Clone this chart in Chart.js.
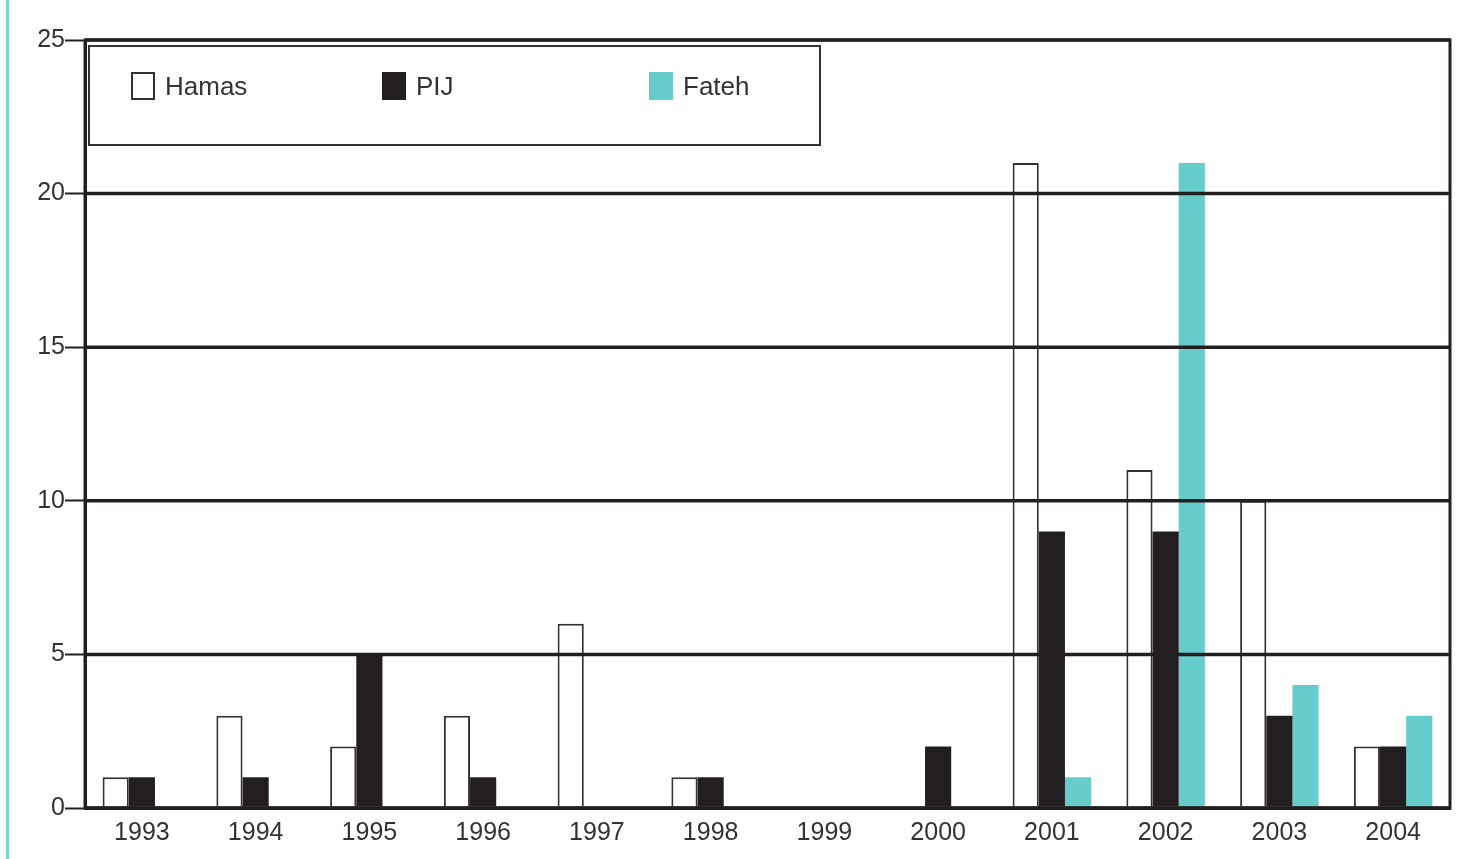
<!DOCTYPE html>
<html>
<head>
<meta charset="utf-8">
<script src="https://cdn.jsdelivr.net/npm/chart.js@4/dist/chart.umd.min.js"></script>
<style>
html,body{margin:0;padding:0;background:#fff;}
#wrap{position:relative;width:1458px;height:859px;}
#edge{position:absolute;left:6px;top:0;width:3px;height:859px;background:#7fd3d3;}
canvas{position:absolute;left:0;top:0;}
</style>
</head>
<body>
<div id="wrap"><div id="edge"></div><canvas id="c" width="1458" height="859"></canvas></div>
<script>
const years = ['1993','1994','1995','1996','1997','1998','1999','2000','2001','2002','2003','2004'];
const hamas = [1, 3, 2, 3, 6, 1, 0, 0, 21, 11, 10, 2];
const pij   = [1, 1, 5, 1, 0, 1, 0, 2, 9, 9, 3, 2];
const fateh = [0, 0, 0, 0, 0, 0, 0, 0, 1, 21, 4, 3];
const yTicks = [0, 5, 10, 15, 20, 25];

const INK = '#231f20';
const TEXT = '#333333';
const FONT = "'Liberation Sans', Arial, sans-serif";

// horizontal grid lines drawn over the bars, as in the reference
const overGridPlugin = {
  id: 'overGrid',
  afterDatasetsDraw(chart) {
    const {ctx, chartArea: a, scales: {y}} = chart;
    ctx.save();
    ctx.strokeStyle = INK;
    ctx.lineWidth = 3.5;
    y.ticks.forEach(t => {
      const py = y.getPixelForValue(t.value);
      ctx.beginPath();
      ctx.moveTo(a.left, py);
      ctx.lineTo(a.right, py);
      ctx.stroke();
    });
    ctx.lineWidth = 3;
    ctx.strokeRect(a.left, a.top, a.right - a.left, a.bottom - a.top);
    ctx.restore();
  }
};

const legendPlugin = {
  id: 'boxLegend',
  afterDraw(chart) {
    const {ctx} = chart;
    ctx.save();
    const bx = 89, by = 46, bw = 731, bh = 99;
    ctx.fillStyle = '#fff';
    ctx.fillRect(bx, by, bw, bh);
    ctx.strokeStyle = '#333';
    ctx.lineWidth = 2;
    ctx.strokeRect(bx, by, bw, bh);
    const xs = [131, 382, 649];
    ctx.font = '26px ' + FONT;
    ctx.textBaseline = 'middle';
    chart.data.datasets.forEach((ds, i) => {
      const x = xs[i], y = 72, w = 24, h = 28;
      ctx.fillStyle = ds.backgroundColor;
      ctx.fillRect(x, y, w, h);
      if (ds.borderWidth) {
        ctx.strokeStyle = ds.borderColor;
        ctx.lineWidth = 2;
        ctx.strokeRect(x + 1, y + 1, w - 2, h - 2);
      }
      ctx.fillStyle = TEXT;
      ctx.textAlign = 'left';
      ctx.fillText(ds.label, x + w + 10, y + h / 2 + 2);
    });
    ctx.restore();
  }
};

new Chart(document.getElementById('c'), {
  type: 'bar',
  data: {
    labels: years,
    datasets: [
      {label: 'Hamas', data: hamas, backgroundColor: '#ffffff', borderColor: '#333333', borderWidth: 2},
      {label: 'PIJ', data: pij, backgroundColor: INK, borderWidth: 0},
      {label: 'Fateh', data: fateh, backgroundColor: '#66cdcc', borderWidth: 0}
    ]
  },
  plugins: [overGridPlugin, legendPlugin],
  options: {
    responsive: false,
    animation: false,
    layout: {padding: {left: 0, right: 8, top: 40, bottom: 0}},
    datasets: {bar: {categoryPercentage: 0.69, barPercentage: 1.0}},
    plugins: {legend: {display: false}, title: {display: false}, tooltip: {enabled: false}},
    scales: {
      x: {
        grid: {display: false, drawTicks: false},
        border: {display: true, color: INK, width: 3},
        ticks: {color: TEXT, font: {family: FONT, size: 25}, padding: 10, maxRotation: 0},
        afterFit(scale) { scale.height = 51; }
      },
      y: {
        min: 0, max: 25,
        afterBuildTicks(scale) { scale.ticks = yTicks.map(v => ({value: v})); },
        grid: {drawOnChartArea: false, color: INK, lineWidth: 3, tickLength: 20, tickColor: INK, tickWidth: 2},
        border: {display: true, color: INK, width: 3},
        ticks: {color: TEXT, font: {family: FONT, size: 25}, padding: 0},
        afterFit(scale) { scale.width = 85; }
      }
    }
  }
});
</script>
</body>
</html>
